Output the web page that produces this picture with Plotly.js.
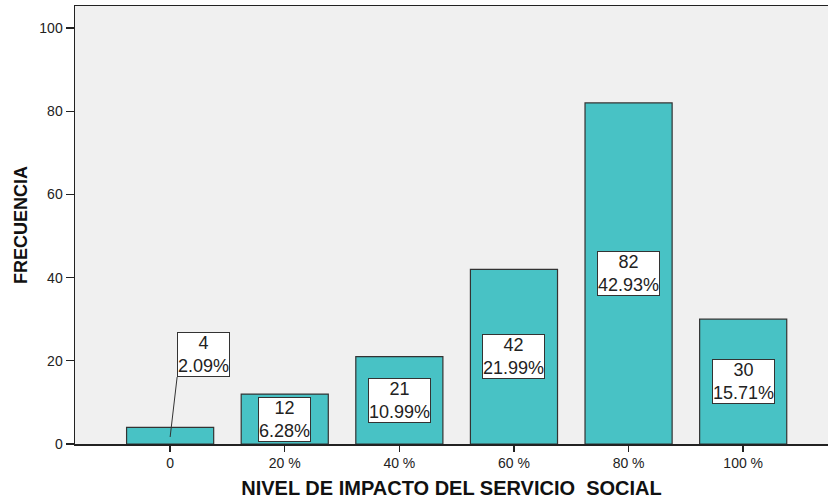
<!DOCTYPE html>
<html>
<head>
<meta charset="utf-8">
<script src="https://cdn.plot.ly/plotly-3.0.1.min.js"></script>
<style>html,body{margin:0;padding:0;background:#fff;overflow:hidden;}</style>
</head>
<body>
<div id="chart" style="width:828px;height:504px;"></div>
<script>
const categories = ["0", "20 %", "40 %", "60 %", "80 %", "100 %"];
const counts = [4, 12, 21, 42, 82, 30];
const percents = ["2.09%", "6.28%", "10.99%", "21.99%", "42.93%", "15.71%"];
const yTicks = [0, 20, 40, 60, 80, 100];

const trace = {
  type: "bar",
  x: categories,
  y: counts,
  marker: {color: "#48C2C5", line: {color: "#333333", width: 1.2}},
  hoverinfo: "none"
};

const annotations = categories.map((c, i) => {
  const a = {
    x: c, y: counts[i] / 2, xref: "x", yref: "y",
    text: counts[i] + "<br>" + percents[i],
    font: {family: "Liberation Sans, Arial, sans-serif", size: 18, color: "#222"},
    bgcolor: "#ffffff", bordercolor: "#333333", borderwidth: 1, borderpad: 0,
    showarrow: false
  };
  if (i === 0) {
    a.showarrow = true;
    a.arrowhead = 0;
    a.arrowwidth = 1;
    a.arrowcolor = "#333333";
    a.standoff = 0;
    a.y = counts[i] * 0.42;
    a.xanchor = "left";
    a.yanchor = "bottom";
    a.ax = 7;
    a.ay = -60;
  }
  return a;
});

const layout = {
  width: 828, height: 504,
  margin: {l: 75, r: 0, t: 6, b: 60, pad: 0},
  paper_bgcolor: "#ffffff",
  plot_bgcolor: "#F0F0F0",
  bargap: 0.24,
  showlegend: false,
  font: {family: "Liberation Sans, Arial, sans-serif", color: "#222"},
  xaxis: {
    type: "category",
    range: [-0.83, 5.74],
    showline: true, linecolor: "#222", linewidth: 1.5, mirror: true,
    ticks: "outside", ticklen: 6, tickcolor: "#222", tickwidth: 1.5,
    tickfont: {size: 14, color: "#222"},
    showgrid: false, zeroline: false,
    title: {text: "<b>NIVEL DE IMPACTO DEL SERVICIO&nbsp; SOCIAL</b>", font: {size: 20, color: "#111"}, standoff: 10}
  },
  yaxis: {
    range: [0, 105.3],
    tickvals: yTicks,
    showline: true, linecolor: "#222", linewidth: 1.5,
    ticks: "outside", ticklen: 8, tickcolor: "#222", tickwidth: 1.2,
    tickfont: {size: 14, color: "#222"},
    ticklabelstandoff: 0,
    showgrid: false, zeroline: false,
    title: {text: "<b>FRECUENCIA</b>", font: {size: 18, color: "#111"}, standoff: 7}
  },
  annotations: annotations
};

Plotly.newPlot("chart", [trace], layout, {displayModeBar: false, staticPlot: true});
</script>
</body>
</html>
